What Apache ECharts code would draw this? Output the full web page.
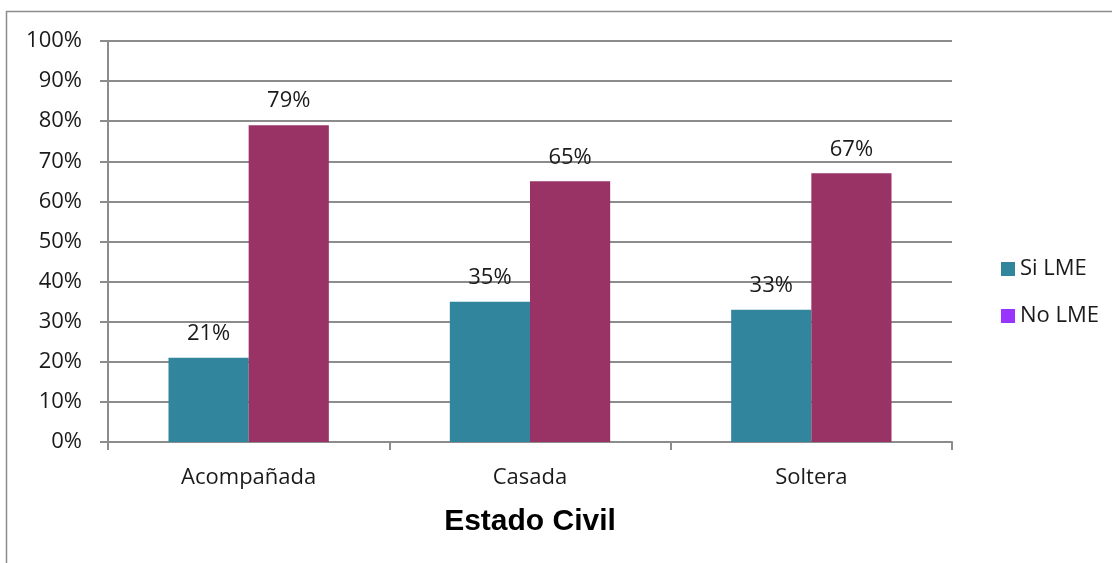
<!DOCTYPE html>
<html>
<head>
<meta charset="utf-8">
<script src="https://cdn.jsdelivr.net/npm/echarts@6/dist/echarts.min.js"></script>
<style>
  html, body { margin: 0; padding: 0; background: #fff; }
  #chart { width: 1112px; height: 563px; }
</style>
</head>
<body>
<div id="chart"></div>
<script>
// Lactancia materna exclusiva por estado civil
const categories = ['Acompañada', 'Casada', 'Soltera'];
const siLME = [21, 35, 33];
const noLME = [79, 65, 67];
const yTicks = [0, 10, 20, 30, 40, 50, 60, 70, 80, 90, 100];

const FONT = '"Open Sans", "Noto Sans", sans-serif';
const GRID_COLOR = '#8c8c8c';
const TEXT_COLOR = '#1a1a1a';

const chart = echarts.init(document.getElementById('chart'), null, { renderer: 'canvas' });

const labelStyle = {
  show: true,
  position: 'top',
  distance: 13,
  formatter: p => p.value + '%',
  fontFamily: FONT,
  fontSize: 22,
  color: TEXT_COLOR
};

chart.setOption({
  animation: false,
  backgroundColor: '#fff',
  graphic: [{
    type: 'rect',
    shape: { x: 6.5, y: 11.5, width: 1200, height: 700 },
    style: { fill: 'none', stroke: '#8c8c8c', lineWidth: 1.5 },
    silent: true,
    z: -1
  }],
  grid: { left: 108, right: 160, top: 41, bottom: 121 },
  legend: {
    orient: 'vertical',
    left: 996,
    top: 253,
    itemWidth: 14,
    itemHeight: 14,
    itemGap: 25,
    icon: 'rect',
    textStyle: { fontFamily: FONT, fontSize: 22, color: TEXT_COLOR },
    data: [
      { name: 'Si LME', itemStyle: { color: '#31859c' } },
      { name: 'No LME', itemStyle: { color: '#9933ff' } }
    ]
  },
  xAxis: {
    type: 'category',
    data: categories,
    name: 'Estado Civil',
    nameLocation: 'middle',
    nameGap: 65,
    nameTextStyle: { fontFamily: 'Liberation Sans, Arial, sans-serif', fontSize: 30, fontWeight: 'bold', color: '#000' },
    axisLine: { lineStyle: { color: GRID_COLOR, width: 2 } },
    axisTick: { show: true, length: 8, lineStyle: { color: GRID_COLOR, width: 2 } },
    axisLabel: { fontFamily: FONT, fontSize: 22, color: TEXT_COLOR, margin: 25 }
  },
  yAxis: {
    type: 'value',
    min: 0,
    max: 100,
    interval: 10,
    axisLine: { show: true, lineStyle: { color: GRID_COLOR, width: 2 } },
    axisTick: { show: true, length: 8, lineStyle: { color: GRID_COLOR, width: 2 } },
    splitLine: { lineStyle: { color: GRID_COLOR, width: 2 } },
    axisLabel: {
      fontFamily: FONT, fontSize: 22, color: TEXT_COLOR, margin: 26,
      formatter: v => yTicks.includes(v) ? v + '%' : ''
    }
  },
  series: [
    {
      name: 'Si LME',
      type: 'bar',
      data: siLME,
      itemStyle: { color: '#31859c' },
      barGap: '0%',
      barCategoryGap: '43%',
      label: labelStyle
    },
    {
      name: 'No LME',
      type: 'bar',
      data: noLME,
      itemStyle: { color: '#993366' },
      barGap: '0%',
      barCategoryGap: '43%',
      label: labelStyle
    }
  ]
});
</script>
</body>
</html>
